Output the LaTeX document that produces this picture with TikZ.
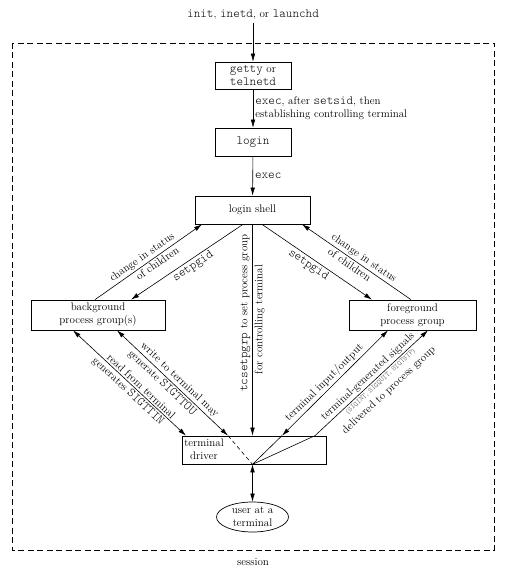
\documentclass[tikz,border=0pt]{standalone}
\usepackage{fontspec}
\setmonofont{Latin Modern Mono Light}[Scale=1.14]
\usetikzlibrary{arrows.meta,shapes.geometric}
\begin{document}
\begin{tikzpicture}[x=1pt,y=-1pt,
  every node/.style={font=\fontsize{11}{13}\selectfont},
  box/.style={draw, line width=0.7pt, inner sep=0pt, align=center},
  conn/.style={line width=0.6pt},
  arr/.style={conn,-{Latex[length=8pt,width=4.6pt]}},
  rarr/.style={conn,{Latex[length=8pt,width=4.6pt]}-},
  darr/.style={conn,{Latex[length=8pt,width=4.6pt]}-{Latex[length=8pt,width=4.6pt]}},
  lbl/.style={sloped, inner sep=1.8pt}
]
\useasboundingbox (0,0) rectangle (505,577);
\draw[line width=0.6pt, dash pattern=on 6pt off 3.5pt] (12,43) rectangle (494,550);

\node (init) at (253,15) {\texttt{init}, \texttt{inetd}, or \texttt{launchd}};
\node[box, minimum width=76pt, minimum height=27pt] (getty) at (253,75.5) {\texttt{getty} or\\\texttt{telnetd}};
\node[box, minimum width=76pt, minimum height=28pt] (login) at (253,142) {\texttt{login}};
\node[box, minimum width=115pt, minimum height=28pt] (ls) at (252.5,210) {login shell};
\node[box, minimum width=134pt, minimum height=30pt] (bg) at (98,315) {background\\process group(s)};
\node[box, minimum width=127pt, minimum height=30pt] (fg) at (412.5,315) {foreground\\process group};
\node[box, minimum width=144pt, minimum height=28pt] (td) at (254,450) {};
\node[align=center] (tdtext) at (204,449) {terminal\\driver};
\node[ellipse, draw, line width=0.7pt, minimum width=72pt, minimum height=30pt, inner sep=0pt, align=center] (user) at (252.5,517) {user at a\\terminal};
\node (session) at (253,562) {session};

\coordinate (conv) at (ls.south |- td.south);
\coordinate (tdtop) at (ls.south |- td.north);
\coordinate (wend) at ([xshift=-26pt]td.north);
\coordinate (ioend) at ([xshift=28pt]td.north);
\coordinate (sigend) at ([xshift=61pt]td.north);

\draw[arr] (init) -- (getty);
\draw[arr] (getty) -- (login) node[midway, right, align=left, inner sep=2pt] {\texttt{exec}, after \texttt{setsid}, then\\establishing controlling terminal};
\draw[arr] (login) -- (ls) node[midway, right, inner sep=2pt] {\texttt{exec}};

\draw[arr] ([xshift=-3pt]bg.north) -- ([xshift=-50.5pt]ls.south)
  node[lbl,pos=0.48,above]{change in status} node[lbl,pos=0.55,below]{of children};
\draw[rarr] ([xshift=33pt]bg.north) -- ([xshift=-9.5pt]ls.south)
  node[lbl,pos=0.52,below]{\texttt{setpgid}};
\draw[arr] ([xshift=9.5pt]ls.south) -- ([xshift=-40.5pt]fg.north)
  node[lbl,pos=0.46,below]{\texttt{setpgid}};
\draw[rarr] ([xshift=49.5pt]ls.south) -- ([xshift=-1.5pt]fg.north)
  node[lbl,pos=0.53,above]{change in status} node[lbl,pos=0.47,below]{of children};
\draw[rarr] (tdtop) -- (ls.south)
  node[lbl,pos=0.58,above]{\texttt{tcsetpgrp} to set process group}
  node[lbl,pos=0.55,below]{for controlling terminal};

\draw[darr] ([xshift=-25pt]bg.south) -- ([xshift=-68pt]td.north)
  node[lbl,pos=0.57,above]{read from terminal} node[lbl,pos=0.53,below]{generates \texttt{SIGTTIN}};
\draw[darr] ([xshift=19pt]bg.south) -- (wend)
  node[lbl,pos=0.52,above]{write to terminal may} node[lbl,pos=0.45,below]{generate \texttt{SIGTTOU}};
\draw[conn, dash pattern=on 4pt off 3pt] (wend) -- (conv);

\draw[darr] (ioend) -- ([xshift=-24.5pt]fg.south)
  node[lbl,pos=0.45,above]{terminal input/output};
\draw[conn] (conv) -- (ioend);
\draw[arr] (conv) -- (sigend) -- ([xshift=15.5pt]fg.south)
  node[lbl,pos=0.51,above]{terminal-generated signals}
  node[lbl,pos=0.55,below,align=center]{{\fontsize{6.5}{8}\selectfont\color{black!75}(\texttt{SIGINT}, \texttt{SIGQUIT}, \texttt{SIGTSTP})}\\delivered to process group};

\draw[darr] (conv) -- (user);
\end{tikzpicture}
\end{document}
